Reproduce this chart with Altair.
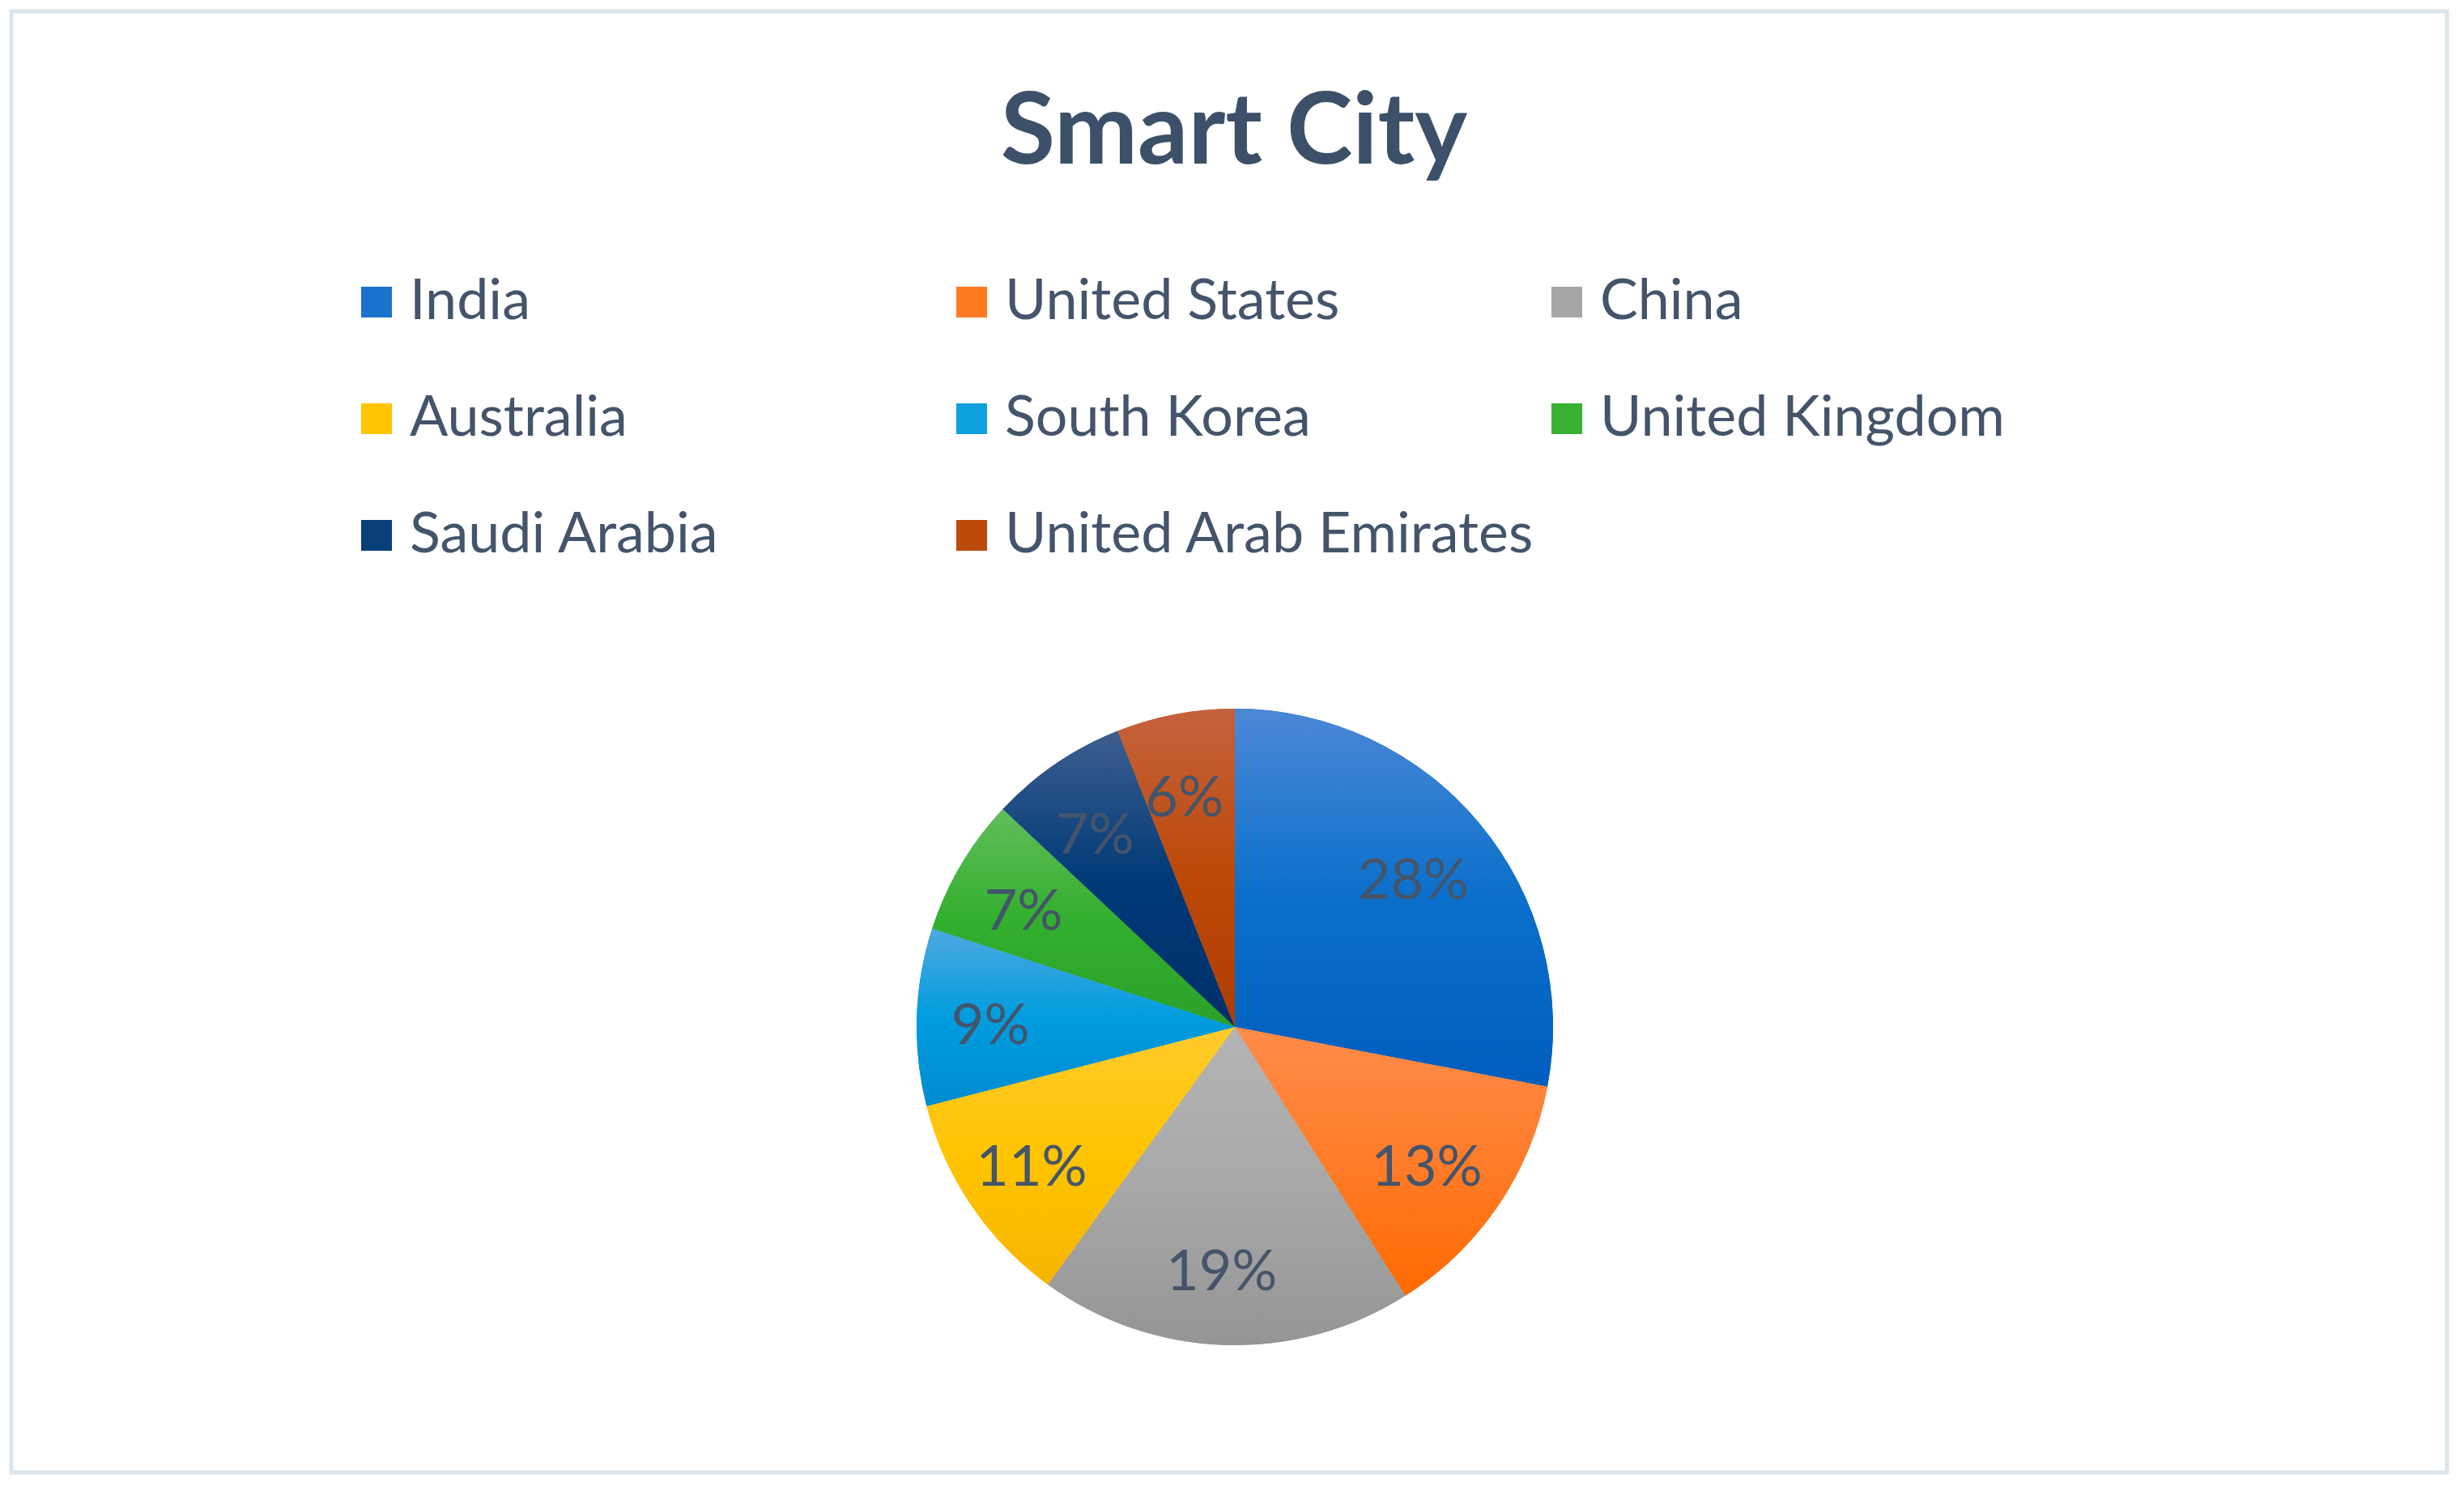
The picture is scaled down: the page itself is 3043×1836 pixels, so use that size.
import altair as alt
import pandas as pd

# ---- data ----
countries = ["India", "United States", "China", "Australia", "South Korea",
             "United Kingdom", "Saudi Arabia", "United Arab Emirates"]
shares = [28, 13, 19, 11, 9, 7, 7, 6]

# ---- styles ----
solid_colors = ["#1A72CC", "#FF7A21", "#A6A6A6", "#FFC400", "#0E9FDE", "#38B033", "#0A3E7A", "#BC4A0A"]
grad_top = ["#4C88D6", "#FF8C4A", "#B4B4B4", "#FFCB2D", "#4EA8E0", "#62BD5C", "#3E5E8E", "#C4623E"]
grad_mid = ["#0A6FCB", "#FF7C2A", "#A8A8A8", "#FFC400", "#009DDE", "#33AF2E", "#003A78", "#BC4A0A"]
grad_bot = ["#005EBE", "#FF6A00", "#959595", "#F7B500", "#008BD0", "#2CA02A", "#00306A", "#B03C00"]
text_color = "#44546A"
title_color = "#3D5069"

CX, CY, R, LR = 1511, 1254, 393, 295


def grad(i):
    return ("{gradient:'linear',x1:0,y1:0,x2:0,y2:1,stops:["
            f"{{offset:0,color:'{grad_top[i]}'}},"
            f"{{offset:0.5,color:'{grad_mid[i]}'}},"
            f"{{offset:1,color:'{grad_bot[i]}'}}]}}")


def lookup(field):
    expr = grad(len(countries) - 1)
    for i in range(len(countries) - 2, -1, -1):
        expr = f"({field} === '{countries[i]}' ? {grad(i)} : {expr})"
    return expr


df = pd.DataFrame({"country": countries, "share": shares, "idx": list(range(len(countries)))})

theta_scale = alt.Scale(domain=[0, 100], range=[0, 6.283185307179586])

base = alt.Chart(df).transform_window(
    cum="sum(share)", sort=[alt.SortField("idx")]
).transform_calculate(
    start="datum.cum - datum.share",
    mid="datum.cum - datum.share / 2",
    label="datum.share + '%'",
)

legend = alt.Legend(
    title=None, orient="none", legendX=416, legendY=324, columns=3, gridAlign="all",
    direction="horizontal",
    columnPadding=4, rowPadding=74, symbolType="square", symbolSize=1444,
    symbolStrokeWidth=0, labelFont="Lato", labelFontSize=70, labelColor=text_color,
    labelOffset=6, padding=0, labelLimit=1000,
)

solid = base.mark_arc(radius=R).encode(
    theta=alt.Theta("start:Q", scale=theta_scale, stack=None),
    theta2="cum:Q",
    color=alt.Color("country:N", scale=alt.Scale(domain=countries, range=solid_colors), legend=legend),
    x=alt.value(CX), y=alt.value(CY),
)

shaded = base.mark_arc(radius=R, fill=alt.ExprRef(expr=lookup("datum.country"))).encode(
    theta=alt.Theta("start:Q", scale=theta_scale, stack=None),
    theta2="cum:Q",
    x=alt.value(CX), y=alt.value(CY),
)

labels = base.mark_text(radius=LR, font="Lato", fontSize=70, color=text_color,
                        align="center", baseline="middle", dx=-7, dy=9).encode(
    theta=alt.Theta("mid:Q", scale=theta_scale, stack=None),
    text="label:N",
    x=alt.value(CX), y=alt.value(CY),
)

chart = alt.layer(solid, shaded, labels).properties(
    width=3008, height=1804,
    padding={"left": 6, "top": 6, "right": 13, "bottom": 10},
    autosize="none",
    background="white",
    title=alt.TitleParams(
        "Smart City", font="Lato", fontSize=123, fontWeight="bold", color=title_color,
        anchor="middle", frame="group", offset=0, baseline="alphabetic", dy=311, dx=6,
    ),
).configure_view(stroke="#DDE5EC", strokeWidth=5)

chart.save("out.html", embed_options={"renderer": "svg", "actions": False})
